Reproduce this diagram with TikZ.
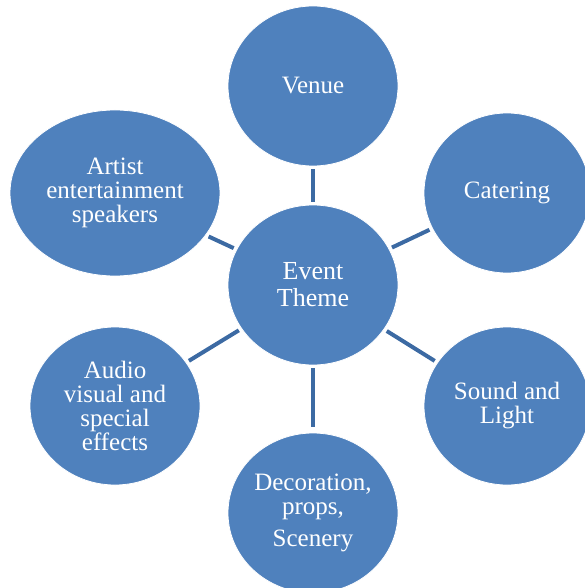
\documentclass[tikz,border=0pt]{standalone}
\usepackage{fontspec}
\setmainfont{Liberation Serif}
\usetikzlibrary{shapes.geometric}
\definecolor{bubble}{HTML}{4F81BD}
\definecolor{linkc}{HTML}{3C6AA3}
\tikzset{
  bubble/.style={ellipse, fill=bubble, draw=white, line width=0.8pt, inner sep=0pt,
    text=white, align=center, font=\fontsize{25}{24}\selectfont},
  link/.style={draw=linkc, line width=4pt, shorten >=3pt, shorten <=3pt}
}
\begin{document}
\begin{tikzpicture}[x=1pt,y=-1pt]
\useasboundingbox (0,0) rectangle (585,588);
\clip (0,0) rectangle (585,588);
\node[bubble, minimum width=170pt, minimum height=160pt, font=\fontsize{26}{27}\selectfont] (ev) at (313,285) {Event\\Theme};
\node[bubble, minimum width=170pt, minimum height=160pt] (venue) at (313,86) {Venue};
\node[bubble, minimum width=166pt, minimum height=160pt] (cat) at (507,193) {Catering};
\node[bubble, minimum width=166pt, minimum height=158pt] (snd) at (507,406) {Sound and\\Light};
\node[bubble, minimum width=170pt, minimum height=160pt] (dec) at (313,513) {Decoration,\\props,\\[8pt]Scenery};
\node[bubble, minimum width=170pt, minimum height=158pt] (av) at (115,406) {Audio\\visual and\\special\\effects};
\node[bubble, minimum width=210pt, minimum height=166pt] (art) at (115,193) {Artist\\entertainment\\speakers};
\draw[link] (ev) -- (venue);
\draw[link] (ev) -- (cat);
\draw[link] (ev) -- (snd);
\draw[link, shorten >=6pt] (ev) -- (dec);
\draw[link] (ev) -- (av);
\draw[link] (ev) -- (art);
\end{tikzpicture}
\end{document}
